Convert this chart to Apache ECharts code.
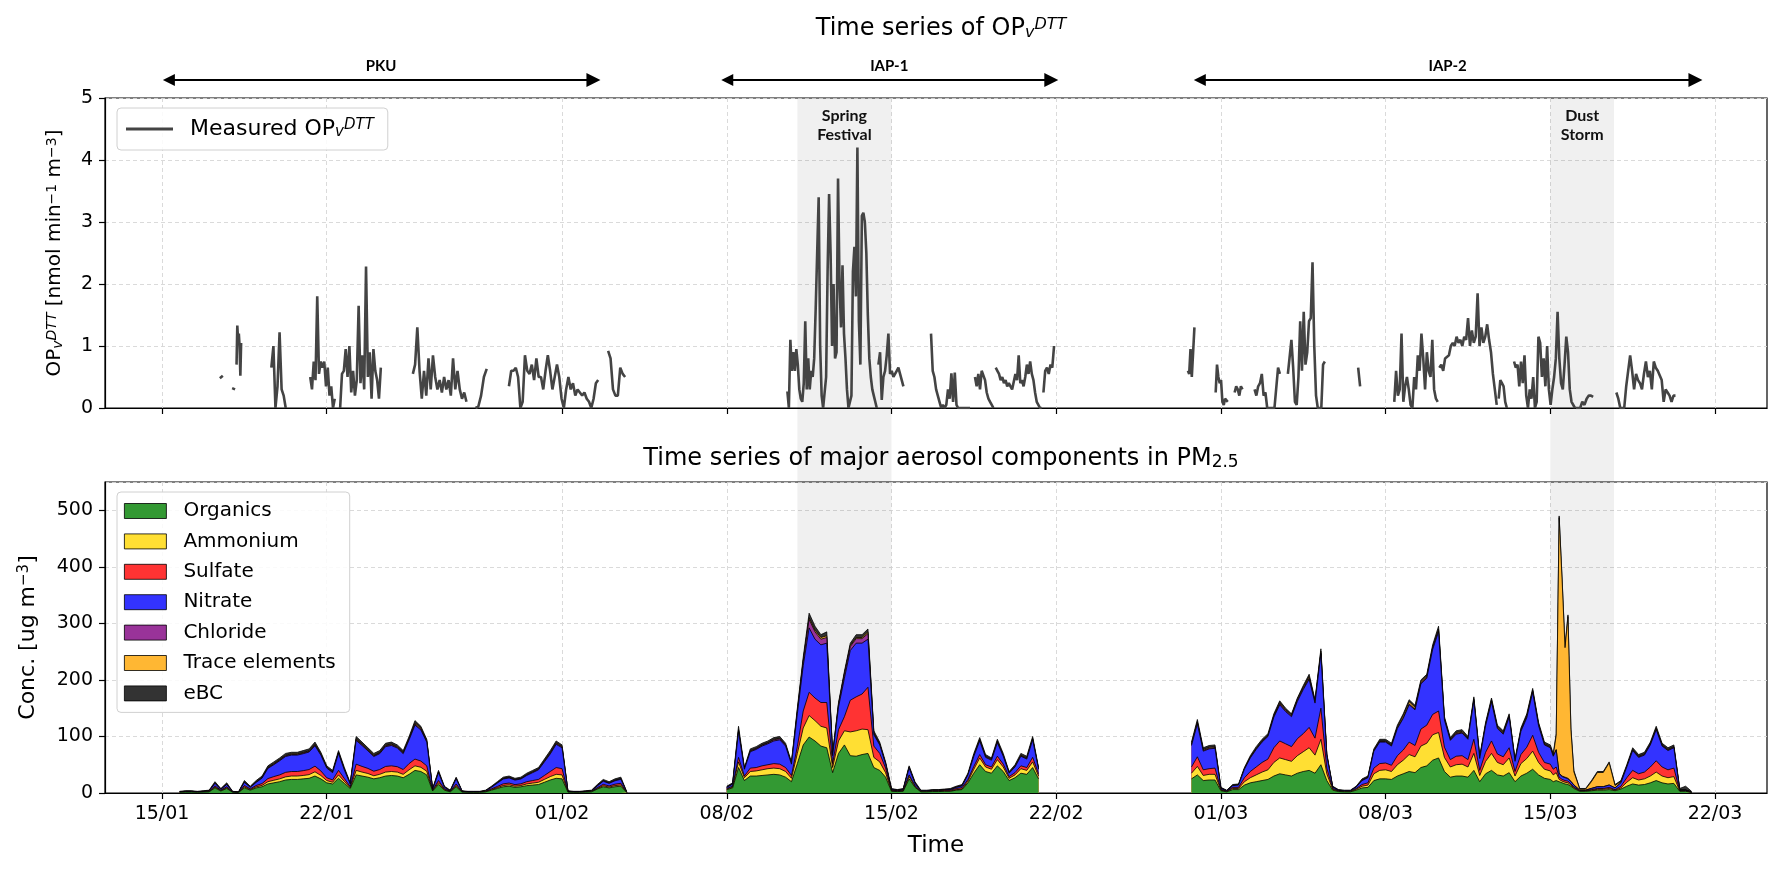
<!DOCTYPE html>
<html><head><meta charset="utf-8">
<script src="https://cdn.jsdelivr.net/npm/echarts@6.0.0/dist/echarts.min.js"></script>
<style>html,body{margin:0;padding:0;background:#fff}#chart{width:1780px;height:875px}</style>
</head><body><div id="chart"></div>
<script>
// ---------- axis / tick data ----------
const xMinStr = '2021-01-12T13:50';
const xMaxStr = '2021-03-24T05:00';
const tickDates = ['2021-01-15T00:00','2021-01-22T00:00','2021-02-01T00:00','2021-02-08T00:00','2021-02-15T00:00',
  '2021-02-22T00:00','2021-03-01T00:00','2021-03-08T00:00','2021-03-15T00:00','2021-03-22T00:00'];

// ---------- shaded events ----------
const eventNames = ['Spring\nFestival', 'Dust\nStorm'];
const eventStart = ['2021-02-11T00:00', '2021-03-15T00:00'];
const eventEnd = ['2021-02-15T00:00', '2021-03-17T17:00'];

// ---------- campaigns (arrows) ----------
const campaignNames = ['PKU', 'IAP-1', 'IAP-2'];
const campaignStart = ['2021-01-15T07:00', '2021-02-08T00:30', '2021-02-28T02:30'];
const campaignEnd = ['2021-02-02T08:00', '2021-02-21T19:00', '2021-03-21T04:00'];

// ---------- OPv DTT segments ----------
const opSegStart = [
 '2021-01-17T11:00','2021-01-17T23:30','2021-01-18T04:00','2021-01-19T15:30','2021-01-21T07:10',
 '2021-01-22T13:40','2021-01-25T15:50','2021-01-28T07:40','2021-01-29T17:50','2021-02-02T23:00',
 '2021-02-10T13:50','2021-02-14T10:40','2021-02-16T16:20','2021-02-18T13:10','2021-02-19T10:20','2021-02-21T11:00',
 '2021-02-27T14:20','2021-02-28T18:40','2021-03-01T14:00','2021-03-02T10:20','2021-03-03T20:20','2021-03-06T20:00',
 '2021-03-08T08:50','2021-03-10T06:50','2021-03-12T19:20','2021-03-13T11:00','2021-03-16T02:00','2021-03-17T19:20'];
const opSegEnd = [
 '2021-01-17T14:00','2021-01-18T02:30','2021-01-18T08:40','2021-01-20T06:10','2021-01-22T08:10',
 '2021-01-24T07:10','2021-01-27T22:30','2021-01-28T19:10','2021-02-02T12:50','2021-02-03T16:20',
 '2021-02-14T09:00','2021-02-15T12:10','2021-02-18T08:10','2021-02-19T08:00','2021-02-21T09:10','2021-02-21T21:50',
 '2021-02-27T21:00','2021-03-01T07:00','2021-03-01T22:00','2021-03-03T12:10','2021-03-05T10:00','2021-03-06T22:00',
 '2021-03-10T05:10','2021-03-12T17:20','2021-03-13T03:40','2021-03-16T01:10','2021-03-16T19:40','2021-03-20T07:40'];
const opSegValues = [
 [0.48,0.52],
 [0.32,0.3],
 [0.7,1.33,1.1,1.2,1.0,0.52,1.05],
 [0.65,1.0,0,0.35,1.22,0.3,0.2,0],
 [0.5,0.3,0.75,0.45,1.8,0.55,0.75,0.65,0.75,0.35,0.65,0.2,0.35,0,0.15],
 [0,0.55,0.6,0.95,0.5,1.0,0.25,0.6,0.2,0.45,1.65,0.4,0.85,0.3,2.28,0.5,0.9,0.15,0.95,0.6,0.45,0.15,0.65],
 [0.55,0.7,1.3,0.6,0.15,0.6,0.2,0.8,0.3,0.85,0.5,0.3,0.45,0.25,0.5,0.3,0.45,0.2,0.8,0.3,0.6,0.3,0.15,0.25,0.1],
 [0,0.02,0.2,0.5,0.63],
 [0.35,0.6,0.6,0.65,0.5,0,0.1,0.85,0.6,0.55,0.7,0.45,0.8,0.5,0.5,0.3,0.6,0.85,0.6,0.3,0.5,0.7,0.5,0.15,0,0.3,0.5,0.3,0.4,0.2,0.3,0.25,0.2,0.25,0.15,0.1,0,0.15,0.4,0.45],
 [0.92,0.8,0.3,0.2,0.2,0.65,0.55,0.5],
 [0.27,0,1.1,0.6,0.9,0.6,0.95,0.7,0.3,0.15,0.1,0.4,1.4,0.3,0.8,0.3,0.6,0.5,0.8,1.6,1.6,3.4,1.0,0.2,0,0,0.5,2.2,3.45,2.5,1.0,2.0,0.8,0.9,3.7,2.0,1.3,2.3,1.2,0.8,0.3,0,0,0.2,2.2,2.6,1.8,4.2,1.4,0.7,3.1,3.15,3.0,2.5,1.5,0.8,0.5,0.3,0.2,0.1,0],
 [0.7,0.9,0.13,0.5,0.6,0.85,1.2,0.55,0.6,0.5,0.55,0.6,0.65,0.55,0.55,0.35],
 [1.2,0.6,0.5,0.3,0.2,0.1,0,0.05,0,0.05,0.3,0.15,0.56,0.1,0.57,0.05,0,0,0,0,0,0,0,0],
 [0.5,0.35,0.55,0.3,0.6,0.62,0.45,0.25,0.15,0.1,0.05,0],
 [0.65,0.6,0.55,0.45,0.5,0.4,0.45,0.35,0.4,0.35,0.3,0.3,0.55,0.45,0.85,0.4,0.45,0.35,0.5,0.7,0.55,0.75,0.55,0.45,0.25,0.1,0.05,0,0],
 [0.25,0.6,0.65,0.55,0.7,0.65,1.0],
 [0.6,0.55,0.95,0.5,0.9,1.3],
 [0.25,0.7,0.5,0.4,0.45,0.1,0.05,0.15,0.15,0.1],
 [0.25,0.35,0.3,0.2,0.35,0.3],
 [0.3,0.2,0.35,0.4,0.55,0.2,0.25,0,0,0,0,0,0,0.65,0.55],
 [0.55,0.55,1.1,0.65,0.1,0.05,0.5,1.4,0.6,1.55,0.7,0.9,1.4,1.45,2.35,1.0,0.2,0,0,0,0.7,0.75],
 [0.65,0.35],
 [0.1,0.6,0.2,0.3,1.2,0.1,0.35,0.5,0.3,0.05,0,0.5,0.3,0.85,0.6,1.2,0.8,0.3,0.9,0.6,0.5,1.1,0.3,0.15,0.1],
 [0.65,0.7,0.6,0.8,0.8,0.85,1.0,1.05,1.0,1.15,1.05,1.1,1.0,1.15,1.1,1.45,1.0,1.25,1.05,1.15,1.85,1.0,1.3,1.05,1.15,1.35,1.1,0.9,0.55,0.3,0.05],
 [0.15,0.45,0.4,0.35,0.1,0],
 [0.75,0.65,0.7,0.35,0.75,0.4,0.85,0.2,0,0.3,0.15,0.5,0,0.1,1.15,1.05,0.5,0.8,0.35,1.0,0.3,0.05,0.3,0.5,0.8,1.55,0.8,0.4,0.3,0.7,1.15,0.9,0.3,0.1,0.1,0],
 [0,0,0,0.1,0.05,0.15,0.2,0.2,0.18],
 [0.25,0.15,0,0,0,0.35,0.6,0.85,0.6,0.3,0.55,0.45,0.4,0.3,0.55,0.75,0.5,0.6,0.3,0.75,0.65,0.6,0.6,0.45,0.1,0.3,0.25,0.2,0.1,0.2,0.2]
];

// ---------- aerosol component time grid (segments) ----------
const compSegStart = ['2021-01-15T18:00','2021-02-08T00:00','2021-02-27T18:00','2021-03-15T00:00','2021-03-16T00:00'];
const compSegStepH = [6, 6, 6, 3, 6];
const compSegLen = [77, 54, 61, 8, 21];
const compSegBreakAfter = [true, true, false, false, true];

const compNames = ['Organics','Ammonium','Sulfate','Nitrate','Chloride','Trace elements','eBC'];

const organics = [
 1.2,1.6,1.6,1.2,1.6,2,9,3.5,8,1.2, 0.8,9,5,9,11,16,18,20,23,24, 24,25,26,30,25,18,16,26,17,8,
 32,30,28,25,27,30,31,30,27,33, 40,38,32,3.5,15,5,2,11,1.6,1.2, 1.2,1.2,2,5,8,11,12,10,11,13,
 14,15,19,23,26,25,1.6,1.2,1.2,1.6, 2,7,11,9,11,12,0.8,
 6,9,45,22,30,30,31,32,33,32, 28,20,52,85,99,92,83,80,36,70, 85,66,65,68,70,45,40,28,3,2.5,
 3,25,10,2,2,2.5,2.5,3,3,5, 6,18,35,50,38,35,48,38,22,27, 35,33,45,25,
 25,32,22,23,23,4,2,6,6,14, 18,20,22,24,30,34,32,30,35,38, 40,35,50,22,5,2.5,2,2,5,9,
 10,22,25,25,24,30,34,38,36,45, 48,58,62,38,28,30,30,28,40,20, 34,40,32,30,36,20,30,35,42,32, 26,
 24,20,22,20,18,16,15,12,
 8,3,3,4,5,5,6,4,7,12, 16,14,15,18,22,18,16,17,3,3, 1];
const ammonium = [
 0.2,0.3,0.3,0.2,0.3,0.4,1.5,0.6,1.3,0.2, 0.1,1.8,1,1.8,2.4,4,4.5,5,5.5,6, 6,6,6.5,7.5,6,4,3,6,3.5,1.3,
 8,7,6.5,5.5,6,7,7,7,6,8, 8,7.5,6.5,0.6,3,1,0.4,2,0.3,0.2, 0.2,0.2,0.4,1,1.5,2.2,2.4,2,2.2,3,
 3.5,4,5,6,7,7,0.3,0.2,0.2,0.3, 0.4,1,1.8,1.5,2,2.2,0.1,
 1,1.5,10,5,8,9,10,11,11,11, 10,6,18,30,38,36,35,35,9,22, 25,42,45,45,42,18,15,8,0.5,0.4,
 0.5,4,1.5,0.3,0.3,0.4,0.4,0.4,0.5,0.8, 1,3,7,12,8,7,11,8,4,5, 8,7,10,5,
 10,15,9,10,10,1,0.5,2,2,6, 9,12,15,17,24,28,27,26,31,35, 40,32,45,12,1.5,0.5,0.5,0.5,1.5,3,
 4,12,15,16,14,20,24,30,28,38, 40,45,45,25,18,20,21,18,30,11, 22,30,22,20,26,10,22,26,32,22, 16,
 15,12,14,4,3,3,3,2,
 1.5,0.5,0.5,1,1.5,1.5,2,1,2,7, 11,9,10,12,15,12,11,12,0.5,0.5, 0.2];
const sulfate = [
 0.3,0.4,0.4,0.3,0.4,0.5,2,0.8,1.8,0.3, 0.2,2.4,1.3,2.4,3.3,5.5,6.5,7,8,8, 8,8.5,9,10,8,5,4,8,5,1.8,
 11,10,9,8,8.5,10,10,9.5,8.5,11, 12,11,9.5,0.8,4,1.3,0.5,3,0.4,0.3, 0.3,0.3,0.5,1.3,2,3,3.2,2.8,3,4,
 4.5,5,7,9,12,11,0.4,0.3,0.3,0.4, 0.5,1.5,2.5,2,2.6,3,0.2,
 1,1.5,8,3,6,6,7,7,8,8, 7,5,12,30,41,40,42,45,7,20, 25,56,60,62,75,20,15,8,1.5,1.2,
 1.5,3,1.5,1,1,1.2,1.2,1.4,1.5,2, 2.5,3,5,6,4,4,6,5,3,4, 5,5,8,4,
 11,17,10,10,11,1,0.5,2,2,7, 11,14,17,19,26,30,28,26,30,32, 36,30,55,10,1.5,0.6,0.5,0.5,1.5,3,
 4,10,12,12,11,16,18,22,20,30, 32,36,38,18,13,15,15,13,25,9, 16,22,15,14,18,8,16,20,28,18, 12,
 12,10,10,4,3,3,3,2,
 1.5,0.5,0.5,1,1.5,1.5,2,1,3,8, 13,11,12,16,20,16,14,15,0.5,0.5, 0.2];
const nitrate = [
 0.4,0.6,0.6,0.4,0.6,0.8,4.5,1.5,4,0.4, 0.3,5.5,2.8,5.5,9.5,18,21,25,28,29, 29,30,31,36,28,17,13,30,15,4.5,
 42,37,31,26,28,35,36,33,28,42, 60,55,42,1.5,14,2.8,0.8,9,0.6,0.4, 0.4,0.4,0.8,2.8,6,8.5,9,8,8.5,11,
 14,17,24,31,41,37,0.6,0.4,0.4,0.6, 0.8,3,5.5,4.5,6,7,0.3,
 2,3.5,45,12,29,32,35,37,40,43, 38,20,58,80,114,104,102,105,14,40, 68,88,95,90,85,20,15,7,1,0.6,
 1,12,4,0.5,0.5,0.6,0.6,0.7,1,2, 3,8,18,24,13,12,24,14,6,10, 17,15,31,8,
 38,58,33,35,35,2,0.8,3,4,15, 24,31,36,40,54,64,57,53,66,78, 85,62,96,22,2.5,1,0.8,0.8,2.5,7,
 9,30,38,37,34,48,56,66,63,80, 83,115,140,48,34,39,40,36,68,21, 47,69,45,40,54,18,41,52,76,47, 31,
 29,23,30,6,5,5,4,4,
 3,1,1,2,3,3,4,3,6,19, 35,29,30,39,55,37,34,36,1,1, 0.3];
const chloride = [
 0.1,0.1,0.1,0.1,0.1,0.1,0.5,0.2,0.4,0.1, 0.1,0.5,0.3,0.5,0.6,1,1,1,1.2,1.2, 1.2,1.2,1.3,1.5,1.2,1,0.8,1.2,0.8,0.4,
 1.5,1.5,1.3,1.2,1.2,1.5,1.5,1.4,1.2,1.5, 2,1.8,1.5,0.2,0.8,0.3,0.1,0.6,0.1,0.1, 0.1,0.1,0.1,0.3,0.4,0.6,0.6,0.5,0.6,0.7,
 0.8,0.9,1.1,1.3,1.5,1.4,0.1,0.1,0.1,0.1, 0.1,0.4,0.5,0.5,0.5,0.6,0.1,
 0.3,0.4,2,0.5,1,1.5,1.5,1.5,2,2, 1.5,1,4,8,15,13,10,10,1,4, 7,7,8,8,10,2,1,1,0.2,0.1,
 0.2,1,0.5,0.1,0.1,0.1,0.1,0.1,0.2,0.3, 0.3,0.5,1,1.5,1,1,1.5,1,0.5,1, 1,1,1.5,0.5,
 1.5,2,1.5,1.5,1.5,0.3,0.2,0.3,0.3,0.8, 1,1,1,1,1.5,2,2,1.5,2,2, 2,2,2,1,0.3,0.2,0.2,0.2,0.3,0.5,
 0.5,1,1,1,1,1,1,1.5,1.5,2, 2,2,2,1.5,1,1.5,1.5,1,2,1, 1.5,2,1.5,1.5,1.5,1,1.5,2,2,1.5, 1,
 1,1,1,1,1,1,1,1,
 0.5,0.2,0.2,0.3,0.3,0.3,0.3,0.3,0.3,0.5, 1,1,1,1,1,1,1,1,0.2,0.2, 0.1];
const traceElements = [
 0.1,0.1,0.1,0.1,0.1,0.1,0.5,0.2,0.5,0.1, 0.1,0.5,0.3,0.5,0.5,0.8,1,1,1,1, 1,1,1,1.2,1,0.8,0.7,1,0.8,0.4,
 1.5,1.3,1.2,1,1,1.2,1.2,1.2,1,1.3, 2,1.8,1.3,0.2,0.7,0.3,0.1,0.5,0.1,0.1, 0.1,0.1,0.1,0.3,0.4,0.5,0.6,0.5,0.5,0.7,
 0.7,0.8,1,1.2,1.3,1.2,0.1,0.1,0.1,0.1, 0.1,0.4,0.5,0.5,0.5,0.6,0.1,
 0.3,0.4,2,0.5,1,0.5,0.5,0.5,1,1, 0.5,0.5,2,2,3,3,3,3,1,1, 2,2,2,2,3,1,1,1,0.3,0.2,
 0.3,1,0.5,0.1,0.1,0.2,0.2,0.2,0.3,0.4, 0.4,0.5,1,1,1,1,1,1,0.5,1, 1,1,1,0.5,
 1.5,2,1.5,1.5,1.5,0.3,0.2,0.3,0.3,0.7, 1,1,1,1,1.5,2,1.5,1.5,2,2, 3,2,3,1,0.3,0.2,0.2,0.2,0.3,0.5,
 0.5,1,1,1,1,2,4,4,3,2, 2,2,3,1.5,1,1.5,1.5,1,2,1, 1.5,2,1.5,1.5,1.5,1,1.5,2,2,1.5, 1,
 1,1,25,452,347,229,286,91,
 23,1.8,1.8,12,25,25,39,4,2,1.5, 1,1,1,1,2,1,1,1,0.3,0.3, 0.1];
const eBC = [
 0.7,0.9,0.9,0.7,0.9,1.1,2,1.2,2,0.7, 0.4,2.3,1.3,2.3,2.7,2.7,3,3,3.3,2.8, 2.8,3.3,3.2,3.8,2.8,2.2,2.5,2.8,2.9,1.6,
 4,3.2,3,3.3,3.3,3.3,3.3,2.9,3.3,3.2, 4,2.9,2.2,1.2,2.5,1.3,1.1,1.9,0.9,0.7, 0.7,0.7,1.1,1.3,1.7,2.2,2.2,2.2,2.2,2.6,
 2.5,2.3,2.9,3.5,3.2,2.4,0.9,0.7,0.7,0.9, 1.1,1.7,2.2,2,2.4,2.6,0.4,
 1.4,1.7,6,2,3,3,3,3,3,3, 3,2.5,4,5,8,7,5,7,2,3, 3,4,5,5,5,4,3,2,1.5,1,
 1.5,2,2,1,1,1,1,1.2,1.5,1.5, 1.8,2,3,3.5,3,2,3.5,3,2,2, 3,3,3.5,2,
 3,4,3,3,3,1.4,0.8,1.4,1.4,1.5, 2,3,3,3,3,3,2.5,2,2,3, 4,2,4,2,0.9,1,0.8,0.8,0.9,2,
 2,2,3,3,3,3,3,3.5,3.5,3, 3,4,5,3,3,3,3,3,3,2, 3,3,3,3,3,2,3,3,3,3, 3,
 3,3,3,3,3,3,3,3,
 2.5,1,1,1.7,1.7,1.7,1.7,1.7,1.7,2, 3,3,3,3,3,3,3,3,2.5,6.5, 1.1];

const compValues = [organics, ammonium, sulfate, nitrate, chloride, traceElements, eBC];
const compColors = ['#339933','#FFDF33','#FF3333','#3333FF','#993399','#FFB733','#333333'];

// ---------- builders ----------
const T = s => new Date(s).getTime();
const HOUR = 3600e3;
// cumulative (stacked) tops, organics at the bottom of the stack
const compStacked = compValues.map((_, ci) => compValues[0].map((__, k) => {
  let s = 0; for (let j = 0; j <= ci; j++) s += compValues[j][k]; return s;
}));
function buildComp(vals) {
  const out = []; let k = 0;
  compSegStart.forEach((s, si) => {
    const t0 = T(s);
    for (let i = 0; i < compSegLen[si]; i++) out.push([t0 + i * compSegStepH[si] * HOUR, vals[k++]]);
    if (compSegBreakAfter[si]) out.push([t0 + compSegLen[si] * compSegStepH[si] * HOUR, null]);
  });
  return out;
}
function buildOp() {
  const out = [];
  opSegValues.forEach((vals, si) => {
    const t0 = T(opSegStart[si]), t1 = T(opSegEnd[si]);
    const n = vals.length, dt = n > 1 ? (t1 - t0) / (n - 1) : 0;
    vals.forEach((v, i) => out.push([t0 + i * dt, v]));
    out.push([t1 + 60e3, null]);
  });
  return out;
}
const pad = n => (n < 10 ? '0' : '') + n;
const fmtDate = v => { const d = new Date(v); return pad(d.getDate()) + '/' + pad(d.getMonth() + 1); };
const ticks = tickDates.map(T);

const FONT = 'DejaVu Sans';
const BOLDF = 'Lato';
const richSS = fs => ({
  sub: {fontSize: fs, fontStyle: 'italic', verticalAlign: 'bottom', fontFamily: FONT, color: '#000'},
  sup: {fontSize: fs, fontStyle: 'italic', verticalAlign: 'top', fontFamily: FONT, color: '#000'},
  sp: {fontSize: fs, verticalAlign: 'top', fontFamily: FONT, color: '#000'},
  sb: {fontSize: fs, verticalAlign: 'bottom', fontFamily: FONT, color: '#000'}
});
const gridLine = {show: true, lineStyle: {color: '#d6d6d6', type: [4, 3], width: 0.9}};

function xAxisCfg(gi, labels) {
  return {
    type: 'value', gridIndex: gi, min: T(xMinStr), max: T(xMaxStr),
    axisLine: {show: true, lineStyle: {color: '#000', width: 1.2}},
    axisTick: {show: true, customValues: ticks, length: 6, lineStyle: {color: '#000', width: 1.2}},
    axisLabel: {show: labels, customValues: ticks, formatter: fmtDate, fontSize: 19, color: '#000', margin: 12, fontFamily: FONT},
    splitLine: gridLine
  };
}
function hiddenX(gi) { return {type: 'value', gridIndex: gi, min: T(xMinStr), max: T(xMaxStr), show: false}; }

const chart = echarts.init(document.getElementById('chart'));
const option = {
  animation: false,
  backgroundColor: '#fff',
  textStyle: {fontFamily: FONT, color: '#000'},
  title: [
    {text: 'Time series of OP{sub|v}{sup|DTT}', left: 936, textAlign: 'center', top: 12,
     textStyle: {fontSize: 24, fontWeight: 'normal', color: '#000', fontFamily: FONT, rich: richSS(16)}},
    {text: 'Time series of major aerosol components in PM{sb|2.5}', left: 936, textAlign: 'center', top: 442,
     textStyle: {fontSize: 24, fontWeight: 'normal', color: '#000', fontFamily: FONT, rich: richSS(17)}}
  ],
  legend: [
    {data: [{name: 'Measured OP', icon: 'rect'}], left: 117, top: 108, orient: 'horizontal',
     itemWidth: 47, itemHeight: 3, selectedMode: false,
     padding: [10, 14, 10, 9], borderColor: '#d0d0d0', borderWidth: 1, borderRadius: 4, backgroundColor: 'rgba(255,255,255,0.85)',
     formatter: () => 'Measured OP{sub|v}{sup|DTT}',
     textStyle: {fontSize: 22, color: '#000', fontFamily: FONT, padding: [0, 0, 0, 12], rich: richSS(15)}},
    {data: compNames.map(n => ({name: n, icon: 'rect'})), left: 117, top: 492, orient: 'vertical',
     itemWidth: 42, itemHeight: 15, itemGap: 10.4, selectedMode: false,
     padding: [9, 14, 9, 7], borderColor: '#d0d0d0', borderWidth: 1, borderRadius: 4, backgroundColor: 'rgba(255,255,255,0.85)',
     itemStyle: {borderColor: '#000', borderWidth: 0.8},
     textStyle: {fontSize: 20, lineHeight: 20, color: '#000', fontFamily: FONT, padding: [0, 0, 0, 12]}}
  ],
  grid: [
    {left: 105, top: 98, width: 1662, height: 310, show: true, borderColor: '#000', borderWidth: 1.2, backgroundColor: 'transparent'},
    {left: 105, top: 482, width: 1662, height: 311, show: true, borderColor: '#000', borderWidth: 1.2, backgroundColor: 'transparent'},
    {left: 105, top: 98, width: 1662, height: 695, show: false},
    {left: 105, top: 50, width: 1662, height: 60, show: false}
  ],
  xAxis: [
    xAxisCfg(0, false),
    Object.assign(xAxisCfg(1, true), {name: 'Time', nameLocation: 'middle', nameGap: 42,
      nameTextStyle: {fontSize: 23, color: '#000', fontFamily: FONT}}),
    hiddenX(2), hiddenX(3)
  ],
  yAxis: [
    {type: 'value', gridIndex: 0, min: 0, max: 5, interval: 1,
     axisLine: {show: true, lineStyle: {color: '#000', width: 1.2}},
     axisTick: {show: true, length: 6, lineStyle: {color: '#000', width: 1.2}},
     axisLabel: {fontSize: 19, color: '#000', margin: 12, fontFamily: FONT},
     splitLine: gridLine,
     name: 'OP{sub|v}{sup|DTT} [nmol min{sp|−1} m{sp|−3}]', nameLocation: 'middle', nameGap: 40, nameRotate: 90,
     nameTextStyle: {fontSize: 20, color: '#000', fontFamily: FONT, rich: richSS(14)}},
    {type: 'value', gridIndex: 1, min: 0, max: 550, interval: 100,
     axisLine: {show: true, lineStyle: {color: '#000', width: 1.2}},
     axisTick: {show: true, length: 6, lineStyle: {color: '#000', width: 1.2}},
     axisLabel: {fontSize: 19, color: '#000', margin: 12, fontFamily: FONT, showMaxLabel: false},
     splitLine: gridLine,
     name: 'Conc. [ug m{sp|−3}]', nameLocation: 'middle', nameGap: 66, nameRotate: 90,
     nameTextStyle: {fontSize: 22, color: '#000', fontFamily: FONT, rich: richSS(15)}},
    {type: 'value', gridIndex: 2, min: 0, max: 1, show: false},
    {type: 'value', gridIndex: 3, min: 0, max: 1, show: false}
  ],
  series: [
    {type: 'line', xAxisIndex: 2, yAxisIndex: 2, data: [], silent: true, z: 1,
     markArea: {silent: true, itemStyle: {color: 'rgba(0,0,0,0.058)'},
       label: {show: true, position: 'insideTop', distance: 8, fontFamily: BOLDF, fontWeight: 'bold', fontSize: 16, lineHeight: 19, color: '#111'},
       data: eventNames.map((n, i) => [{name: n, xAxis: T(eventStart[i])}, {xAxis: T(eventEnd[i])}])}},
    {type: 'lines', coordinateSystem: 'cartesian2d', xAxisIndex: 3, yAxisIndex: 3, silent: true, clip: false,
     symbol: ['triangle', 'triangle'], symbolSize: [12, 14],
     lineStyle: {color: '#000', width: 2, opacity: 1, curveness: 0},
     label: {show: true, position: 'middle', formatter: '{b}', fontFamily: BOLDF, fontWeight: 'bold', fontSize: 15, color: '#000', distance: 6},
     data: campaignNames.map((n, i) => ({name: n, coords: [[T(campaignStart[i]), 0.5], [T(campaignEnd[i]), 0.5]]}))},
    {name: 'Measured OP', type: 'line', xAxisIndex: 0, yAxisIndex: 0, data: buildOp(), symbol: 'none', showSymbol: false,
     lineStyle: {color: '#444444', width: 2.6}, itemStyle: {color: '#444444'}, connectNulls: false, z: 3}
  ].concat(compNames.map((n, i) => ({
    name: n, type: 'line', xAxisIndex: 1, yAxisIndex: 1, data: buildComp(compStacked[i]),
    symbol: 'none', showSymbol: false, connectNulls: false,
    lineStyle: {color: '#000', width: 0.8}, itemStyle: {color: compColors[i]},
    areaStyle: {color: compColors[i], opacity: 1, origin: 0}
  })).reverse().map((s, idx) => Object.assign(s, {z: 2 + idx * 0.01})))
};
chart.setOption(option);
</script></body></html>
